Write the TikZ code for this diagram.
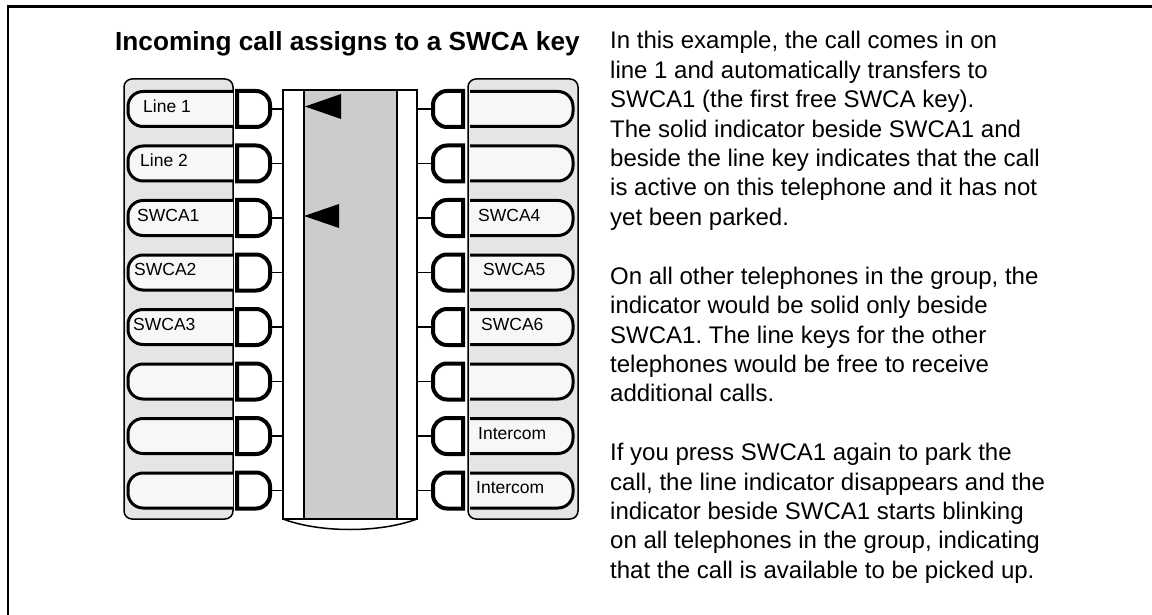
\documentclass[tikz,border=0pt]{standalone}
\usepackage{fontspec}
\setmainfont{Liberation Sans}
\frenchspacing
\definecolor{panelgray}{HTML}{E5E5E5}
\definecolor{dispgray}{HTML}{CCCCCC}
\definecolor{keyfill}{HTML}{F7F7F7}
\begin{document}
\begin{tikzpicture}[x=1pt,y=-1pt,
  panel/.style={draw=black,fill=panelgray,line width=1.5,rounded corners=8},
  keyb/.style={draw=black,fill=keyfill,line width=3},
  ind/.style={draw=black,fill=white,line width=4},
  conn/.style={draw=black,line width=1.5},
  klabel/.style={anchor=base west,inner sep=0,font=\fontsize{17.5}{20}\selectfont},
  body/.style={anchor=base west,inner sep=0,font=\fontsize{24}{28}\selectfont},
  title/.style={anchor=base west,inner sep=0,font=\bfseries\fontsize{26.2}{30}\selectfont}]
\useasboundingbox (0,0) rectangle (1152,615);
% frame
\draw[line width=2.5] (8,615) -- (8,6.5) -- (1152,6.5);
% title
\node[title] (ttl) at (115,51) {Incoming call assigns to a SWCA key};
% panels
\draw[panel] (124,79) rectangle (233,519);
\draw[panel] (468,79) rectangle (578,519);
% display
\draw[line width=1.5,fill=white] (283,90) rectangle (417,519);
\draw[line width=1.5,fill=dispgray] (304,90) rectangle (397,519);
\draw[line width=1.5] (283,519) .. controls (320,533) and (380,533) .. (417,519);
% keys
\foreach \i/\lab/\lx in {0/Line 1/143,1/Line 2/140,2/SWCA1/137,3/SWCA2/134,4/SWCA3/133,5//140,6//140,7//140}{
  \pgfmathsetmacro\y{109+54.5*\i}
  \path[keyb] (233,\y-17.5) -- (143,\y-17.5) arc[start angle=270,end angle=180,radius=15] -- (128,\y+2.5) arc[start angle=180,end angle=90,radius=15] -- (233,\y+17.5);
  \node[klabel] (lk\i) at (\lx,\y+3.3) {\lab};
  \path[ind] (237,\y-18) -- (256,\y-18) arc[start angle=270,end angle=360,radius=14] -- (270,\y+4) arc[start angle=0,end angle=90,radius=14] -- (237,\y+18) -- cycle;
  \coordinate (li\i) at (272,\y);
  \coordinate (dl\i) at (283,\y);
  \draw[conn] (li\i) -- (dl\i);
}
\foreach \i/\lab/\lx in {0//480,1//480,2/SWCA4/478,3/SWCA5/483,4/SWCA6/481,5//480,6/Intercom/478,7/Intercom/476}{
  \pgfmathsetmacro\y{109+54.5*\i}
  \path[keyb] (470,\y-17.5) -- (558,\y-17.5) arc[start angle=270,end angle=360,radius=15] -- (573,\y+2.5) arc[start angle=0,end angle=90,radius=15] -- (470,\y+17.5);
  \node[klabel] (rk\i) at (\lx,\y+3.3) {\lab};
  \path[ind] (463,\y-18) -- (447,\y-18) arc[start angle=270,end angle=180,radius=14] -- (433,\y+4) arc[start angle=180,end angle=90,radius=14] -- (463,\y+18) -- cycle;
  \coordinate (ri\i) at (431,\y);
  \coordinate (dr\i) at (417,\y);
  \draw[conn] (dr\i) -- (ri\i);
}
% indicator triangles
\fill (305,106.5) -- (341,94) -- (341,119) -- cycle;
\fill (304,216) -- (339,204) -- (339,228) -- cycle;
% body text
\foreach \k/\t in {0/{In this example, the call comes in on},
  1/{line 1 and automatically transfers to},
  2/{SWCA1 (the first free SWCA key).},
  3/{The solid indicator beside SWCA1 and},
  4/{beside the line key indicates that the call},
  5/{is active on this telephone and it has not},
  6/{yet been parked.},
  8/{On all other telephones in the group, the},
  9/{indicator would be solid only beside},
  10/{SWCA1. The line keys for the other},
  11/{telephones would be free to receive},
  12/{additional calls.},
  14/{If you press SWCA1 again to park the},
  15/{call, the line indicator disappears and the},
  16/{indicator beside SWCA1 starts blinking},
  17/{on all telephones in the group, indicating},
  18/{that the call is available to be picked up.}}{
  \node[body] (t\k) at (610,49+29.4*\k) {\t};
}
\end{tikzpicture}
\end{document}
